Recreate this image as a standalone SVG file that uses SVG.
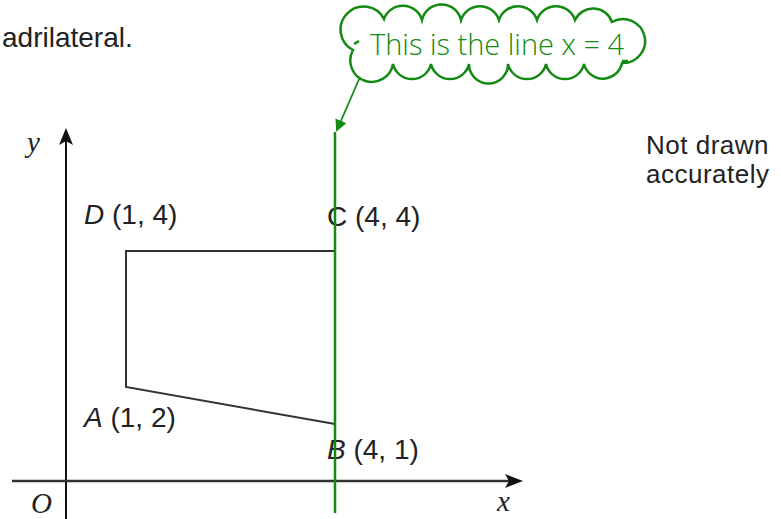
<svg xmlns="http://www.w3.org/2000/svg" width="781" height="519" viewBox="0 0 781 519">
<style>
.lbl{font-family:"Liberation Sans",Arial,sans-serif;font-size:28px;fill:#222}
.note{font-family:"Liberation Sans",Arial,sans-serif;font-size:26px;letter-spacing:0.5px;fill:#222}
.it{font-style:italic}
.ax{font-family:"Liberation Serif","Times New Roman",serif;font-style:italic;font-size:29px;fill:#222}
.green{stroke:#138a13;fill:none}
</style>
<defs>
<marker id="garrow" markerWidth="12" markerHeight="12" refX="10" refY="6" orient="auto" markerUnits="userSpaceOnUse">
<path d="M0,0 L12,6 L0,12 z" fill="#138a13"/>
</marker>
</defs>
<rect width="781" height="519" fill="#fff"/>
<text x="2" y="47" class="lbl">adrilateral.</text>
<text x="646" y="154" class="note">Not drawn</text>
<text x="646" y="183" class="note">accurately</text>
<g id="axes">
<line x1="66" y1="519" x2="66" y2="140" stroke="#111" stroke-width="2"/>
<path d="M66,128 L73,145 L66,141 L59,145 z" fill="#111"/>
<line x1="12" y1="481" x2="510" y2="481" stroke="#333" stroke-width="2.5"/>
<path d="M523,481 L505,474 L509,481 L505,488 z" fill="#111"/>
<text x="27" y="152" class="ax">y</text>
<text x="497" y="511" class="ax">x</text>
<text x="31" y="513" class="ax">O</text>
</g>
<g id="quadrilateral">
<polyline points="335,251 126,251 126,387 335,424" fill="none" stroke="#333" stroke-width="2"/>
</g>
<g id="labels">
<text x="84" y="224" class="lbl"><tspan class="it">D</tspan> (1, 4)</text>
<text x="327" y="226" class="lbl">C (4, 4)</text>
<text x="84" y="427" class="lbl"><tspan class="it">A</tspan> (1, 2)</text>
<text x="327" y="459" class="lbl"><tspan class="it">B</tspan> (4, 1)</text>
</g>
<g id="line-x4">
<line x1="335" y1="132" x2="335" y2="513" stroke="#138a13" stroke-width="2.5"/>
</g>
<g id="callout">
<path d="M353,50 A23 23 0 1 1 384,19 A20 20 0 0 1 422,20 A20 20 0 0 1 461,20 A20 20 0 0 1 499,20 A20 20 0 0 1 537,20 A20 20 0 0 1 575,20 A20 20 0 0 1 612,22 A22 22 0 1 1 622,63 A19.5 19.5 0 0 1 584,64 A19.5 19.5 0 0 1 546,64 A19.5 19.5 0 0 1 508,64 A19.5 19.5 0 0 1 469,64 A19.5 19.5 0 0 1 431,64 A19.5 19.5 0 0 1 393,64 A21.5 21.5 0 1 1 353,50 Z" fill="#fff" stroke="#138a13" stroke-width="2.5"/>
<path d="M354,44 L359,41 M622,61 L628,61" class="green" stroke-width="2.5"/>
<text x="370" y="55" font-family="'Open Sans','Noto Sans',sans-serif" font-weight="300" font-size="29" fill="#138a13">This is the line x = 4</text>
</g>
<g id="connectors">
<line x1="360" y1="77" x2="337" y2="130" class="green" stroke-width="1.8" marker-end="url(#garrow)"/>
</g>
</svg>
